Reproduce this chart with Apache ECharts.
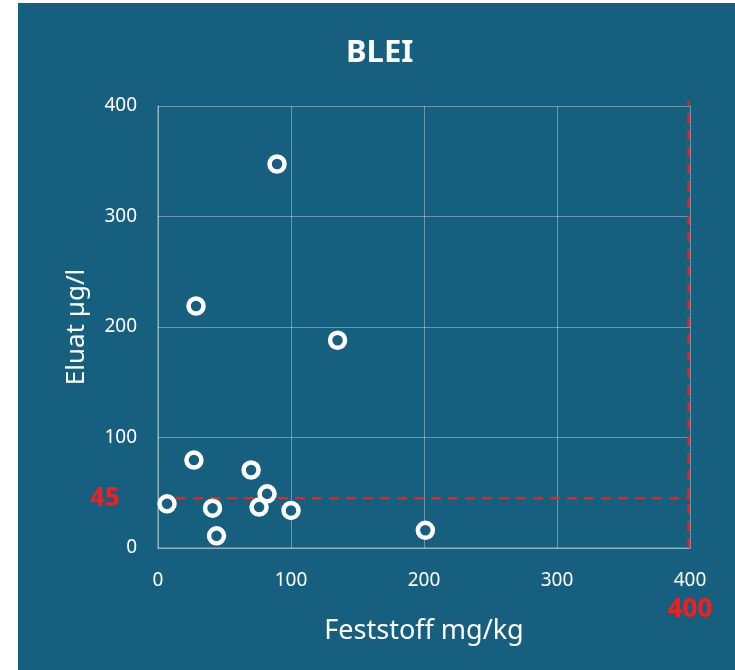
<!DOCTYPE html>
<html>
<head>
<meta charset="utf-8">
<script src="https://cdn.jsdelivr.net/npm/echarts@6/dist/echarts.min.js"></script>
<style>
html,body{margin:0;padding:0;background:#ffffff;}
#chart{width:735px;height:670px;}
</style>
</head>
<body>
<div id="chart"></div>
<script>
// Data (Feststoff mg/kg, Eluat µg/l)
const feststoff = [89.5, 28.6, 135, 27, 70, 82, 6.8, 41, 76, 100, 44, 201];
const eluat     = [347.5, 219, 188, 79.6, 70.6, 49, 40, 36, 37, 34, 11, 16];
const xTicks = [0, 100, 200, 300, 400];
const yTicks = [0, 100, 200, 300, 400];
const limitEluat = 45;
const limitFeststoff = 400;
const titleText = 'BLEI';
const xName = 'Feststoff mg/kg';
const yName = 'Eluat µg/l';

const bg = '#175f7f';
const gridColor = 'rgba(255,255,255,0.35)';
const red = '#ff1a1a';
const font = 'Noto Sans';

const points = feststoff.map((x, i) => [x, eluat[i]]);

const chart = echarts.init(document.getElementById('chart'));
chart.setOption({
  backgroundColor: 'transparent',
  animation: false,
  textStyle: { fontFamily: font },
  graphic: [{
    type: 'rect', left: 18, top: 3, z: -10, silent: true,
    shape: { width: 717, height: 667 },
    style: { fill: bg }
  }],
  title: {
    text: titleText, left: 341, top: 33,
    textStyle: { color: '#ffffff', fontSize: 31, fontWeight: 'bold', fontFamily: font }
  },
  grid: { left: 158, right: 45, top: 106, bottom: 122, containLabel: false },
  xAxis: {
    type: 'value', min: xTicks[0], max: xTicks[xTicks.length - 1], interval: 100,
    name: xName, nameLocation: 'middle', nameGap: 70, nameMoveOverlap: false,
    nameTextStyle: { color: '#ffffff', fontSize: 27, fontFamily: font },
    axisLine: { show: true, lineStyle: { color: gridColor, width: 1.5 } },
    axisTick: { show: false },
    splitLine: { show: true, lineStyle: { color: gridColor, width: 1 } },
    axisLabel: {
      color: '#ffffff', fontSize: 19, margin: 20, lineHeight: 26,
      formatter: v => v === limitFeststoff ? v + '\n{r|' + limitFeststoff + '}' : String(v),
      rich: { r: { color: red, fontSize: 26, fontWeight: 'bold', lineHeight: 32, fontFamily: font } }
    }
  },
  yAxis: {
    type: 'value', min: yTicks[0], max: yTicks[yTicks.length - 1], interval: 100,
    name: yName, nameLocation: 'middle', nameGap: 68, nameRotate: 90, nameMoveOverlap: false,
    nameTextStyle: { color: '#ffffff', fontSize: 26, fontFamily: font },
    axisLine: { show: true, lineStyle: { color: gridColor, width: 1.5 } },
    axisTick: { show: false },
    splitLine: { show: true, lineStyle: { color: gridColor, width: 1 } },
    axisLabel: { color: '#ffffff', fontSize: 19, margin: 21 }
  },
  series: [
    {
      type: 'line', clip: false, silent: true, symbol: 'none',
      data: [[-12, limitEluat], [limitFeststoff, limitEluat]],
      lineStyle: { color: red, width: 2.5, type: [10, 7] }, z: 3
    },
    {
      type: 'line', clip: false, silent: true, symbol: 'none',
      data: [[limitFeststoff - 1, 0], [limitFeststoff - 1, 405]],
      lineStyle: { color: red, width: 2.5, type: [10, 7] }, z: 3
    },
    {
      type: 'scatter', clip: false, silent: true, symbolSize: 0,
      data: [[-40, limitEluat]],
      itemStyle: { opacity: 1 },
      label: {
        show: true, position: 'inside', formatter: String(limitEluat),
        color: red, fontSize: 26, fontWeight: 'bold', fontFamily: font,
        textBorderWidth: 0, textBorderColor: 'transparent', opacity: 1
      }
    },
    {
      type: 'scatter', data: points, symbol: 'circle', symbolSize: 15,
      itemStyle: { color: bg, borderColor: '#ffffff', borderWidth: 4.5, opacity: 1 },
      z: 5
    }
  ]
});
</script>
</body>
</html>
